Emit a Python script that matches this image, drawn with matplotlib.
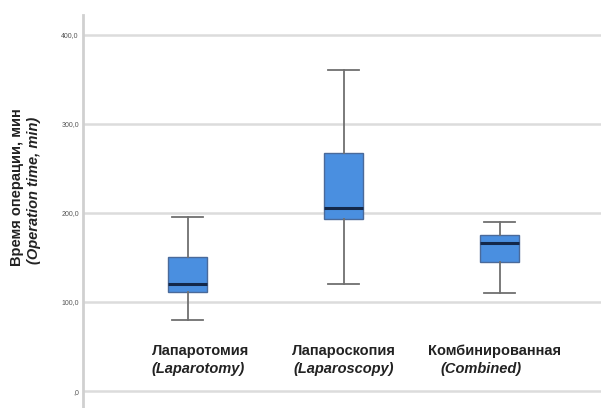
import matplotlib.pyplot as plt

# --- данные ---
groups = ['Лапаротомия', 'Лапароскопия', 'Комбинированная']
groups_en = ['(Laparotomy)', '(Laparoscopy)', '(Combined)']
whislo = [80, 120, 110]
q1 = [111, 193, 145]
med = [120, 205, 166]
q3 = [150, 267, 175]
whishi = [195, 360, 190]
yticks = [0, 100, 200, 300, 400]
ytick_labels = [',0', '100,0', '200,0', '300,0', '400,0']

plt.rcParams['font.family'] = ['Liberation Sans', 'DejaVu Sans']

fig = plt.figure(figsize=(6.01, 4.08), dpi=100)
ax = fig.add_axes([83 / 601, 0, (601 - 83) / 601, (408 - 15) / 408])

stats = []
for i in range(len(groups)):
    stats.append({'whislo': whislo[i], 'q1': q1[i], 'med': med[i],
                  'q3': q3[i], 'whishi': whishi[i], 'fliers': []})

ax.bxp(stats, positions=[1, 2, 3], widths=0.25, patch_artist=True,
       boxprops=dict(facecolor='#4a8fe0', edgecolor='#4a6a9a', linewidth=1),
       medianprops=dict(color='#13284a', linewidth=2.2),
       whiskerprops=dict(color='#707070', linewidth=1.3),
       capprops=dict(color='#707070', linewidth=1.3),
       capwidths=0.2)

ax.set_xlim(0.33, 3.65)
ax.set_ylim(-19, 422)
ax.set_yticks(yticks)
ax.set_yticklabels(ytick_labels, fontsize=5, color='#555555')
ax.tick_params(axis='y', length=0, pad=3)
ax.set_xticks([])
ax.grid(axis='y', color='#dcdcdc', linewidth=1.8)
ax.set_axisbelow(True)

for s in ['top', 'right', 'bottom']:
    ax.spines[s].set_visible(False)
ax.spines['left'].set_color('#d0d0d0')
ax.spines['left'].set_linewidth(2)

# подписи групп внутри области графика
label_x = [1.083, 2.0, 2.97]
label_x_en = [1.07, 2.0, 2.88]
for i in range(len(groups)):
    ax.text(label_x[i], 45, groups[i], ha='center', va='center',
            fontsize=10.5, fontweight='bold', color='#222222')
    ax.text(label_x_en[i], 25, groups_en[i], ha='center', va='center',
            fontsize=10.5, fontweight='bold', fontstyle='italic', color='#222222')

fig.text(17 / 601, 1 - 187 / 408, 'Время операции, мин', rotation=90,
         ha='center', va='center', fontsize=10.5, fontweight='bold', color='#222222')
fig.text(34 / 601, 1 - 190 / 408, '(Operation time, min)', rotation=90,
         ha='center', va='center', fontsize=10.5, fontweight='bold',
         fontstyle='italic', color='#222222')

fig.savefig('out.png', dpi=100)
